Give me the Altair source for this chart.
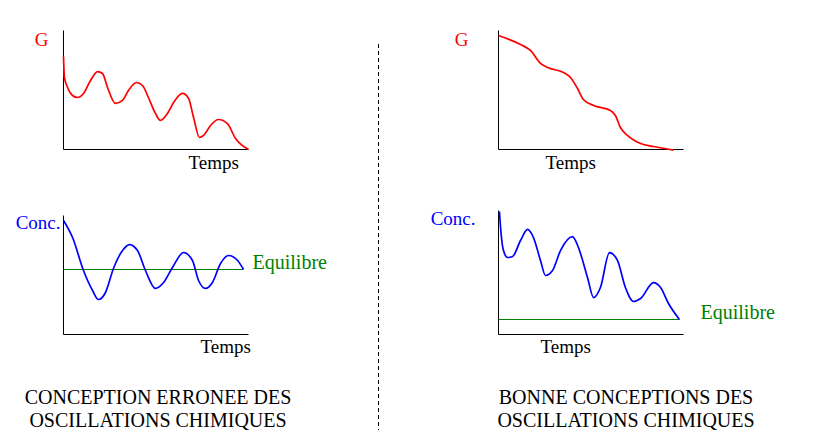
import altair as alt
import pandas as pd

# ---------- data (time and value in arbitrary units, 0..10) ----------
# Panel 1: wrong conception, free energy G
g_wrong_t = [0, 0.05, 0.22, 0.49, 0.76, 1.08, 1.46, 1.84, 2.11, 2.38, 2.81, 3.19, 3.51, 3.95,
             4.27, 4.59, 4.97, 5.24, 5.62, 5.95, 6.43, 6.76, 7.03, 7.35, 7.57, 7.95, 8.38,
             8.86, 9.30, 10.0]
g_wrong_v = [7.82, 6.05, 5.21, 4.54, 4.37, 4.71, 5.80, 6.55, 6.39, 5.21, 3.87, 4.12, 4.96, 5.63,
             5.38, 4.37, 3.03, 2.44, 3.03, 3.95, 4.71, 4.29, 2.69, 1.01, 1.18, 2.02, 2.52,
             2.18, 0.92, 0.0]

# Panel 2: good conception, free energy G
g_good_t = [0, 1.19, 1.73, 2.27, 2.65, 3.51, 3.89, 4.27, 4.59, 5.14, 6.05, 6.32, 6.59, 6.97,
            7.68, 8.38, 9.46]
g_good_v = [9.58, 8.82, 8.32, 7.23, 6.89, 6.47, 6.05, 5.13, 4.20, 3.70, 3.28, 2.86, 1.85, 1.18,
            0.50, 0.25, -0.05]

# Panel 3: wrong conception, concentration
c_wrong_t = [0, 0.49, 1.08, 1.57, 1.89, 2.27, 2.70, 3.19, 3.57, 4.00, 4.43, 4.97, 5.41, 5.89,
             6.49, 6.97, 7.30, 7.68, 8.05, 8.49, 8.92, 9.41, 9.73]
c_wrong_v = [9.58, 8.15, 5.38, 3.70, 2.94, 3.53, 5.55, 7.06, 7.56, 7.06, 5.38, 3.87, 4.37, 5.63,
             6.89, 6.22, 4.54, 3.87, 4.37, 5.97, 6.64, 6.22, 5.46]
c_wrong_eq = 5.46
c_wrong_eq_end = 9.73

# Panel 4: good conception, concentration
c_good_t = [0.05, 0.16, 0.27, 0.49, 0.76, 1.19, 1.57, 1.89, 2.27, 2.54, 2.92, 3.35, 4.00, 4.32,
            4.81, 5.14, 5.51, 6.00, 6.43, 6.86, 7.30, 7.68, 8.38, 8.76, 9.19, 9.78]
c_good_v = [9.92, 7.82, 6.77, 6.21, 6.29, 7.58, 8.47, 7.82, 5.97, 4.76, 5.16, 6.77, 7.90, 7.02,
            4.60, 2.98, 3.79, 6.61, 5.97, 3.79, 2.66, 2.90, 4.19, 3.79, 2.50, 1.21]
c_good_eq = 1.21
c_good_eq_end = 9.78

captions_left = ["CONCEPTION ERRONEE DES", "OSCILLATIONS CHIMIQUES"]
captions_right = ["BONNE CONCEPTIONS DES", "OSCILLATIONS CHIMIQUES"]

FONT = "Liberation Serif"


def panel(t, v, color, xrange, yrange, ylab, ylab_color, ylab_dx, ylab_dy,
          temps_dx, temps_dy, eq=None, eq_end=None, eq_dx=0, eq_dy=0):
    xs = alt.Scale(domain=[0, 10], range=xrange, nice=False, zero=False)
    ys = alt.Scale(domain=[0, 10], range=yrange, nice=False, zero=False)
    X = lambda f: alt.X(f, type="quantitative", scale=xs, axis=None)
    Y = lambda f: alt.Y(f, type="quantitative", scale=ys, axis=None)

    curve = alt.Chart(pd.DataFrame({"t": t, "v": v})).mark_line(
        color=color, strokeWidth=1.7, interpolate="monotone", clip=False
    ).encode(x=X("t"), y=Y("v"))

    axes_df = pd.DataFrame({"x": [0, 0], "x2": [10, 0], "y": [0, 0], "y2": [0, 10]})
    axes = alt.Chart(axes_df).mark_rule(color="black", strokeWidth=1).encode(
        x=X("x"), x2="x2", y=Y("y"), y2="y2")

    one = pd.DataFrame({"x": [0], "y": [10], "y0": [0]})
    ylabel = alt.Chart(one).mark_text(
        text=ylab, color=ylab_color, font=FONT, fontSize=19, align="right",
        baseline="alphabetic", dx=ylab_dx, dy=ylab_dy
    ).encode(x=X("x"), y=Y("y"))
    xlabel = alt.Chart(one).mark_text(
        text="Temps", color="black", font=FONT, fontSize=19, align="left",
        baseline="alphabetic", dx=temps_dx, dy=temps_dy
    ).encode(x=X("x"), y=Y("y0"))

    layers = [axes, curve, ylabel, xlabel]
    if eq is not None:
        eq_df = pd.DataFrame({"x": [0], "x2": [eq_end], "y": [eq], "xe": [10]})
        eq_line = alt.Chart(eq_df).mark_rule(color="#008000", strokeWidth=1).encode(
            x=X("x"), x2="x2", y=Y("y"))
        eq_text = alt.Chart(eq_df).mark_text(
            text="Equilibre", color="#008000", font=FONT, fontSize=20, align="left",
            baseline="alphabetic", dx=eq_dx, dy=eq_dy
        ).encode(x=X("xe"), y=Y("y"))
        layers = [axes, eq_line, curve, ylabel, xlabel, eq_text]
    return alt.layer(*layers)


p1 = panel(g_wrong_t, g_wrong_v, "#ff0000", [55.5, 240.5], [141.5, 22.5], "G", "#ff0000",
           -15, 15, 125, 19)
p2 = panel(g_good_t, g_good_v, "#ff0000", [490.5, 675.5], [141.5, 22.5], "G", "#ff0000",
           -30, 15, 47, 19)
p3 = panel(c_wrong_t, c_wrong_v, "#0000ff", [55.5, 240.5], [326.5, 207.5], "Conc.", "#0000ff",
           -3, 13, 137, 18, eq=c_wrong_eq, eq_end=c_wrong_eq_end, eq_dx=4, eq_dy=-1)
p4 = panel(c_good_t, c_good_v, "#0000ff", [490.5, 675.5], [326.5, 202.5], "Conc.", "#0000ff",
           -23, 14, 42, 18, eq=c_good_eq, eq_end=c_good_eq_end, eq_dx=17, eq_dy=0)

sep = alt.Chart(alt.Data(values=[{}])).mark_rule(
    color="black", strokeWidth=1, strokeDash=[4, 3]
).encode(x=alt.value(370.5), y=alt.value(36), y2=alt.value(422))

cap_l = alt.Chart(alt.Data(values=[{}])).mark_text(
    text=captions_left, font=FONT, fontSize=20, align="center", baseline="alphabetic",
    lineHeight=23, color="black"
).encode(x=alt.value(150), y=alt.value(396))
cap_r = alt.Chart(alt.Data(values=[{}])).mark_text(
    text=captions_right, font=FONT, fontSize=20, align="center", baseline="alphabetic",
    lineHeight=23, color="black"
).encode(x=alt.value(618), y=alt.value(396))

chart = alt.layer(p1, p2, p3, p4, sep, cap_l, cap_r).resolve_scale(
    x="independent", y="independent"
).properties(
    width=805, height=428, padding=0, autosize=alt.AutoSizeParams(type="none"),
    background="white"
).configure_view(stroke=None)

chart.save("out.html", embed_options={"renderer": "svg", "actions": False})
